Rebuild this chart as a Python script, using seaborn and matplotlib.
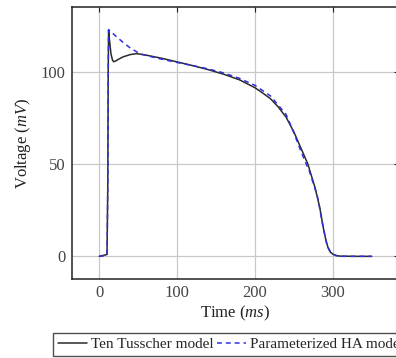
import numpy as np
import pandas as pd
import matplotlib
matplotlib.use("Agg")
import matplotlib.pyplot as plt
import seaborn as sns

# Ten Tusscher model (black solid)
tt_time = [0, 10, 11, 11.5, 12, 13, 15, 17, 18.5, 21, 25, 31, 40, 48, 60, 80, 100, 120,
           140, 160, 180, 200, 210, 220, 230, 240, 250, 260, 268, 277, 283, 288, 291,
           294, 297, 300, 305, 310, 330, 350]
tt_volt = [0, 1, 40, 100, 122.8, 118, 110, 106.5, 105.6, 106, 107, 108.3, 109.5, 110,
           109.2, 107.5, 105.5, 103.5, 101.3, 98.8, 95.8, 91.5, 88.6, 85.5, 81, 75.5,
           67.5, 57.8, 50, 37.5, 27, 15, 9, 4.5, 2.2, 1.2, 0.4, 0.1, 0, 0]

# Parameterized HA model (blue dashed)
ha_time = [0, 10, 11, 11.5, 12, 20, 30, 40, 52, 60, 80, 100, 120, 140, 160, 180, 200,
           220, 240, 250, 260, 270, 280, 287, 292, 296, 300, 305, 310, 330, 350]
ha_volt = [0, 0.5, 40, 100, 123, 120, 116.3, 113, 110, 109, 107, 105.2, 103.5, 101.7,
           99.5, 96.6, 92.8, 87, 77, 67, 56, 46, 33, 17, 7, 3, 1, 0.3, 0, 0, 0]

x_ticks = [0, 100, 200, 300]
y_ticks = [0, 50, 100]
labels = ["Ten Tusscher model", "Parameterized HA model"]

sns.set_style("white")
plt.rcParams["font.family"] = ["Liberation Serif", "DejaVu Serif"]
plt.rcParams["mathtext.fontset"] = "custom"
plt.rcParams["mathtext.it"] = "Liberation Serif:italic"
plt.rcParams["mathtext.rm"] = "Liberation Serif"

fig = plt.figure(figsize=(3.96, 3.58), dpi=100)
W, H = 396, 358
ax = fig.add_axes([72 / W, 1 - 279 / H, (399 - 72) / W, (279 - 7) / H])

df_tt = pd.DataFrame({"t": tt_time, "v": tt_volt})
df_ha = pd.DataFrame({"t": ha_time, "v": ha_volt})

sns.lineplot(data=df_tt, x="t", y="v", ax=ax, color="#2a2a2a", lw=1.1,
             label=labels[0], legend=False)
sns.lineplot(data=df_ha, x="t", y="v", ax=ax, color="#2f2fe0", lw=1.1,
             linestyle=(0, (3.2, 2.6)), label=labels[1], legend=False)

ax.set_xlim(-35, 385)
ax.set_ylim(-12.3, 135.3)
ax.set_xticks(x_ticks)
ax.set_yticks(y_ticks)
ax.grid(True, color="#c8c8c8", lw=0.9)
ax.set_axisbelow(True)
for s in ax.spines.values():
    s.set_color("#222222")
    s.set_linewidth(1.1)
ax.tick_params(direction="in", length=3.5, width=0.8, top=True, right=True,
               labelsize=12, colors="#222222", pad=4.5)
for lab in ax.get_xticklabels() + ax.get_yticklabels():
    lab.set_color("#444444")

ax.set_xlabel("Time ($ms$)", fontsize=12, labelpad=2, color="#222222")
ax.set_ylabel("Voltage ($mV$)", fontsize=12, labelpad=6, color="#222222")

handles, labs = ax.get_legend_handles_labels()
leg = fig.legend(handles, labs, loc="upper left", bbox_to_anchor=(53 / W, 1 - 333 / H),
                 ncol=2, frameon=True, fancybox=False, fontsize=11,
                 handlelength=1.9, handletextpad=0.3, columnspacing=0.2,
                 borderpad=0.3, borderaxespad=0)
leg.get_frame().set_edgecolor("#222222")
leg.get_frame().set_linewidth(1.0)

fig.savefig("out.png", dpi=100)
